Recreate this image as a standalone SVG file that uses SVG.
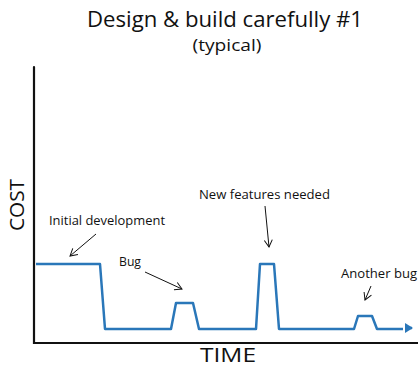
<svg xmlns="http://www.w3.org/2000/svg" width="418" height="368" viewBox="0 0 418 368">
<style>
text{font-family:"Open Sans","DejaVu Sans",sans-serif;fill:#111}
.ann{font-size:12.5px}
.big{font-size:20px}
.axis{stroke:#111;stroke-width:2.2;fill:none;stroke-linecap:round}
.data{stroke:#2a77b9;stroke-width:2.5;fill:none;stroke-linejoin:round}
.arr{stroke:#111;stroke-width:1;fill:none}
</style>
<defs>
<marker id="ah" markerWidth="10" markerHeight="10" refX="8" refY="5" orient="auto" markerUnits="userSpaceOnUse">
<path d="M1,1 L8,5 L1,9" fill="none" stroke="#111" stroke-width="1"/>
</marker>
<marker id="bh" markerWidth="10" markerHeight="10" refX="7" refY="5" orient="auto" markerUnits="userSpaceOnUse">
<path d="M0,0 L8,5 L0,10 Z" fill="#2a77b9"/>
</marker>
</defs>
<g id="title">
<text x="225" y="27" font-size="21" text-anchor="middle" textLength="276" lengthAdjust="spacingAndGlyphs">Design &amp; build carefully #1</text>
<text x="227" y="51" font-size="15.5" text-anchor="middle" textLength="69" lengthAdjust="spacingAndGlyphs">(typical)</text>
</g>
<g id="axes">
<path class="axis" d="M34,67 L34,343 L418,343"/>
<text x="228" y="362" class="big" text-anchor="middle" textLength="56" lengthAdjust="spacingAndGlyphs">TIME</text>
<text transform="translate(24,205) rotate(-90)" class="big" text-anchor="middle" textLength="52" lengthAdjust="spacingAndGlyphs">COST</text>
</g>
<g id="series">
<path class="data" d="M36,264 L100,264 L105,329 L171,329 L176,303 L193,303 L199,329 L256,329 L260,264 L274,264 L279,329 L354,329 L358,316 L372,316 L377,329 L403,329"/>
<path class="data" d="M405,328 L412,328" marker-end="url(#bh)" stroke-width="1.5"/>
</g>
<g id="connectors">
<path class="arr" d="M96,234 L70,256" marker-end="url(#ah)"/>
<path class="arr" d="M145,272 L182,289" marker-end="url(#ah)"/>
<path class="arr" d="M265,206 L269,247" marker-end="url(#ah)"/>
<path class="arr" d="M371,286 L365,300" marker-end="url(#ah)"/>
</g>
<g id="label-initial"><text x="49" y="225" class="ann" textLength="116" lengthAdjust="spacingAndGlyphs">Initial development</text></g>
<g id="label-bug"><text x="119" y="266" class="ann" textLength="22" lengthAdjust="spacingAndGlyphs">Bug</text></g>
<g id="label-features"><text x="199" y="199" class="ann" textLength="131" lengthAdjust="spacingAndGlyphs">New features needed</text></g>
<g id="label-another"><text x="341" y="278" class="ann" textLength="76" lengthAdjust="spacingAndGlyphs">Another bug</text></g>
</svg>
